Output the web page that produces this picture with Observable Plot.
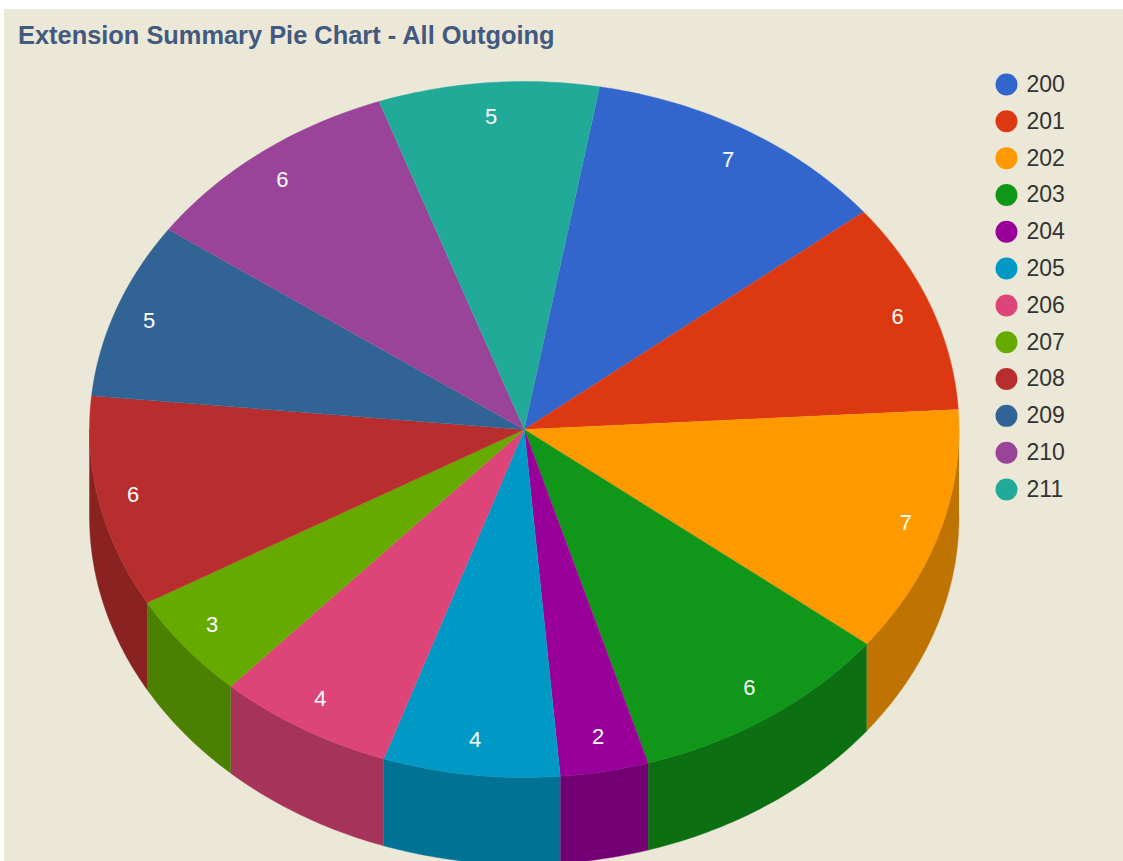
<!DOCTYPE html>
<html>
<head>
<meta charset="utf-8">
<script src="https://cdn.jsdelivr.net/npm/d3@7"></script>
<script src="https://cdn.jsdelivr.net/npm/@observablehq/plot@0.6"></script>
<style>
  html, body { margin: 0; padding: 0; background: #fff; overflow: hidden; }
  #page { position: relative; width: 1123px; height: 861px; overflow: hidden; }
  #panel { position: absolute; left: 4px; top: 9px; right: 0; bottom: 0; background: #ebe8d8; }
  #title { position: absolute; left: 18px; top: 21px; font: bold 25.4px "Liberation Sans", Arial, sans-serif; color: #435a7e; white-space: nowrap; }
  #pie, #legend { position: absolute; }
  #pie { left: 0; top: 0; }
  #legend { left: 984px; top: 60px; }
</style>
</head>
<body>
<div id="page">
  <div id="panel"></div>
  <div id="pie"></div>
  <div id="title">Extension Summary Pie Chart - All Outgoing</div>
  <div id="legend"></div>
</div>
<script>
const extensions = ["200","201","202","203","204","205","206","207","208","209","210","211"];
const calls = [7,6,7,6,2,4,4,3,6,5,6,5];
const topColors = ["#3366cc","#dc3912","#ff9900","#109618","#990099","#0099c6","#dd4477","#66aa00","#b82e2e","#316395","#994499","#22aa99"];
const sideColors = ["#264c99","#a52b0e","#bf7300","#0c7012","#730073","#007394","#a63359","#4c8000","#8a2222","#254a70","#733373","#1a8073"];
const startAngle = 10;   // degrees clockwise from 12 o'clock
const depth = 87 / 348;  // wall height, in units of the vertical radius
const labelRadiusX = 0.92;
const labelRadiusY = 0.90;

const total = d3.sum(calls);
const rad = d => d * Math.PI / 180;
const px = (t, r = 1) => r * Math.sin(rad(t));
const py = (t, r = 1) => r * Math.cos(rad(t));

let a = startAngle;
const slices = extensions.map((ext, i) => {
  const from = a;
  a += calls[i] / total * 360;
  return {ext, value: calls[i], from, to: a, mid: (from + a) / 2};
});

function arcAngles(from, to) {
  const out = [];
  for (let t = from; t < to; t += 1) out.push(t);
  out.push(to);
  return out;
}

const tops = slices.flatMap(s => [
  {ext: s.ext, x: 0, y: 0},
  ...arcAngles(s.from, s.to).map(t => ({ext: s.ext, x: px(t), y: py(t)}))
]);

const walls = slices.flatMap(s => {
  const from = Math.max(s.from, 90), to = Math.min(s.to, 270);
  if (from >= to) return [];
  const ts = arcAngles(from, to);
  const key = s.ext + " side";
  return [
    ...ts.map(t => ({ext: key, x: px(t), y: py(t)})),
    ...ts.slice().reverse().map(t => ({ext: key, x: px(t), y: py(t) - depth}))
  ];
});

const labels = slices.map(s => ({value: String(s.value), x: px(s.mid, labelRadiusX), y: py(s.mid, labelRadiusY)}));

const colorScale = {
  type: "ordinal",
  domain: [...extensions, ...extensions.map(e => e + " side")],
  range: [...topColors, ...sideColors]
};

document.getElementById("pie").append(Plot.plot({
  width: 1123,
  height: 861,
  margin: 0,
  style: {background: "transparent"},
  x: {domain: [-1, 1], range: [89, 958.5], axis: null},
  y: {domain: [-1, 1], range: [777, 81], axis: null},
  color: colorScale,
  marks: [
    Plot.line(walls, {x: "x", y: "y", z: "ext", fill: "ext", stroke: "ext", strokeWidth: 0.4}),
    Plot.line(tops, {x: "x", y: "y", z: "ext", fill: "ext", stroke: "ext", strokeWidth: 0.4}),
    Plot.text(labels, {x: "x", y: "y", text: "value", fill: "#fff", fontSize: 22, fontFamily: "Liberation Sans, Arial, sans-serif"})
  ]
}));

document.getElementById("legend").append(Plot.plot({
  width: 130,
  height: 460,
  margin: 0,
  style: {background: "transparent"},
  x: {domain: [0, 1], range: [22, 42], axis: null},
  y: {type: "point", domain: extensions, range: [24, 429], padding: 0, round: false, axis: null},
  color: {type: "ordinal", domain: extensions, range: topColors},
  marks: [
    Plot.dot(extensions, {x: () => 0, y: d => d, r: 11, fill: d => d}),
    Plot.text(extensions, {x: () => 1, y: d => d, text: d => d, textAnchor: "start", fill: "#333", fontSize: 23, fontFamily: "Liberation Sans, Arial, sans-serif"})
  ]
}));
</script>
</body>
</html>
